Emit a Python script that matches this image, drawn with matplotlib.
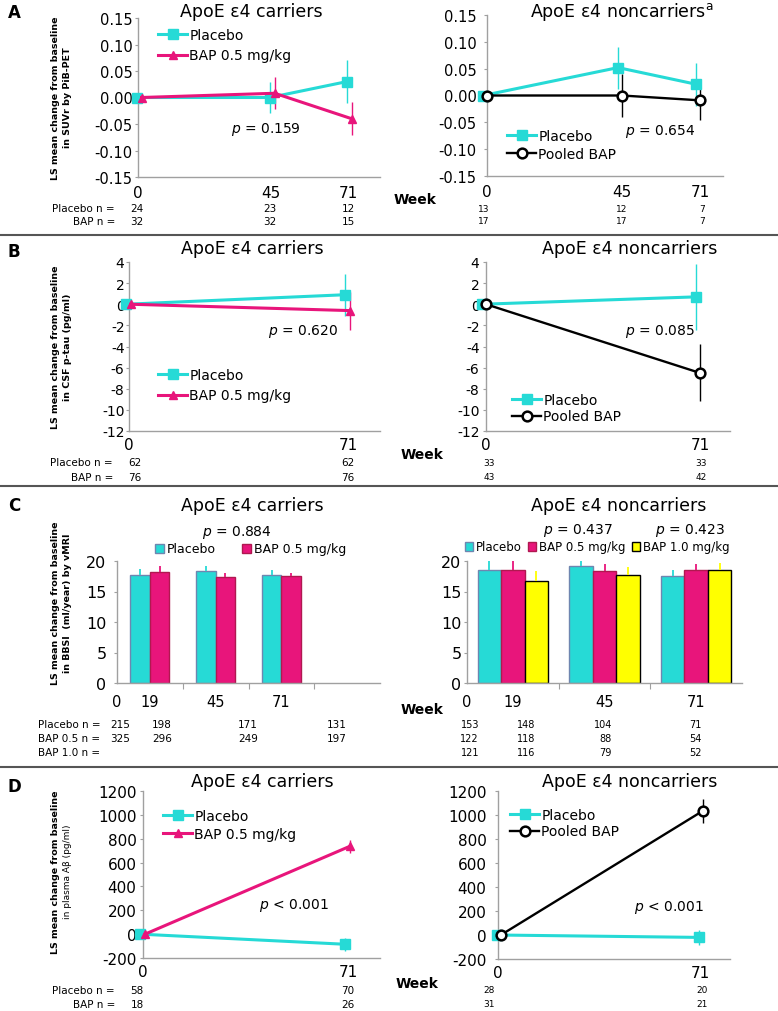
import matplotlib
matplotlib.use("Agg")
import matplotlib.pyplot as plt
from matplotlib.patches import Patch
from matplotlib.lines import Line2D
import numpy as np

W, H = 778, 1012

CYAN = "#26dad6"
MAGENTA = "#e8157b"
YELLOW = "#ffff00"
BLACK = "#000000"
AXIS = "#a0a0a0"

# ---- A: amyloid PET (SUVr)
weeks_a = [0, 45, 71]
a_car_pbo = [0.0, 0.0, 0.03]
a_car_pbo_err = [0.0, 0.03, 0.04]
a_car_bap = [0.0, 0.008, -0.04]
a_car_bap_err = [0.0, 0.03, 0.031]
a_non_pbo = [0.0, 0.052, 0.021]
a_non_pbo_err = [0.0, 0.039, 0.04]
a_non_bap = [0.0, 0.0, -0.009]
a_non_bap_err = [0.0, 0.04, 0.037]
a_car_n_pbo = [24, 23, 12]
a_car_n_bap = [32, 32, 15]
a_non_n_pbo = [13, 12, 7]
a_non_n_bap = [17, 17, 7]

# ---- B: CSF p-tau
weeks_b = [0, 71]
b_car_pbo = [0.0, 0.9]
b_car_pbo_err = [0.0, 2.0]
b_car_bap = [0.0, -0.6]
b_car_bap_err = [0.0, 1.8]
b_non_pbo = [0.0, 0.7]
b_non_pbo_err = [0.0, 3.1]
b_non_bap = [0.0, -6.5]
b_non_bap_err = [0.0, 2.7]
b_car_n_pbo = [62, 62]
b_car_n_bap = [76, 76]
b_non_n_pbo = [33, 33]
b_non_n_bap = [43, 42]

# ---- C: BBSI bars
weeks_c = ["19", "45", "71"]
c_car_pbo = [17.7, 18.4, 17.7]
c_car_pbo_err = [1.0, 0.7, 0.8]
c_car_bap05 = [18.2, 17.4, 17.6]
c_car_bap05_err = [0.9, 0.7, 0.5]
c_non_pbo = [18.6, 19.1, 17.5]
c_non_pbo_err = [1.4, 0.9, 1.0]
c_non_bap05 = [18.6, 18.3, 18.6]
c_non_bap05_err = [1.4, 1.2, 0.9]
c_non_bap10 = [16.8, 17.7, 18.6]
c_non_bap10_err = [1.6, 1.3, 1.1]
c_car_n_pbo = [215, 198, 171, 131]
c_car_n_bap05 = [325, 296, 249, 197]
c_non_n_pbo = [153, 148, 104, 71]
c_non_n_bap05 = [122, 118, 88, 54]
c_non_n_bap10 = [121, 116, 79, 52]

# ---- D: plasma Abeta
weeks_d = [0, 71]
d_car_pbo = [0.0, -85.0]
d_car_pbo_err = [0.0, 55.0]
d_car_bap = [0.0, 737.0]
d_car_bap_err = [0.0, 56.0]
d_non_pbo = [0.0, -20.0]
d_non_pbo_err = [0.0, 65.0]
d_non_bap = [0.0, 1035.0]
d_non_bap_err = [0.0, 100.0]
d_car_n_pbo = [58, 70]
d_car_n_bap = [18, 26]
d_non_n_pbo = [28, 20]
d_non_n_bap = [31, 21]

fig = plt.figure(figsize=(W / 100, H / 100), dpi=100)
fig.patch.set_facecolor("white")


def add_ax(l, t, r, b):
    return fig.add_axes([l / W, 1 - b / H, (r - l) / W, (b - t) / H])


def ftext(x, y, s, **kw):
    kw.setdefault("ha", "center")
    kw.setdefault("va", "center")
    return fig.text(x / W, 1 - y / H, s, **kw)


def base_style(ax, ylim, yticks, fmt, ysize, gap_px):
    for s in ("top", "right"):
        ax.spines[s].set_visible(False)
    for s in ("left", "bottom"):
        ax.spines[s].set_color(AXIS)
        ax.spines[s].set_linewidth(1.0)
    ax.set_ylim(*ylim)
    ax.set_yticks(yticks)
    ax.set_yticklabels([fmt.format(v) for v in yticks])
    ax.tick_params(axis="y", length=2.5, width=0.8, color=AXIS,
                   labelsize=ysize, pad=max(gap_px - 3, 1) * 0.72)


def legend_at(ax, handles, labels, x_px, y_px, **kw):
    pos = ax.get_position()
    xa = (x_px / W - pos.x0) / pos.width
    ya = ((1 - y_px / H) - pos.y0) / pos.height
    return ax.legend(handles, labels, loc="center left", bbox_to_anchor=(xa, ya),
                     borderaxespad=0, borderpad=0, frameon=False, **kw)


def series(ax, weeks, y, err, color, marker, label, dx=0.0, mfc=None, lw=2.2, ms=6.5, mew=1.0):
    x = [w + dx for w in weeks]
    ax.errorbar(x, y, yerr=err, fmt="none", ecolor=color, elinewidth=1.0, capsize=0,
                clip_on=False, zorder=2)
    ln, = ax.plot(x, y, color=color, lw=lw, marker=marker, ms=ms,
                  mfc=mfc if mfc else color, mec=color, mew=mew, clip_on=False,
                  label=label, zorder=3)
    return ln


def line_panel(ax, weeks, xmax, ylim, yticks, fmt, ysize, gap_px, xsize, xpad):
    base_style(ax, ylim, yticks, fmt, ysize, gap_px)
    ax.set_xlim(0, xmax)
    ax.set_xticks(weeks)
    ax.set_xticklabels([str(w) for w in weeks])
    ax.tick_params(axis="x", length=0, labelsize=xsize, pad=xpad)


# ================= A =================
ax = add_ax(138, 19, 380, 178)
line_panel(ax, weeks_a, 81.8, (-0.15, 0.15), np.arange(-0.15, 0.151, 0.05), "{:.2f}", 10.5, 5, 11, 6)
h1 = series(ax, weeks_a, a_car_pbo, a_car_pbo_err, CYAN, "s", "Placebo", dx=-0.4)
h2 = series(ax, weeks_a, a_car_bap, a_car_bap_err, MAGENTA, "^", "BAP 0.5 mg/kg", dx=1.2, ms=6)
legend_at(ax, [h1, h2], ["Placebo", "BAP 0.5 mg/kg"], 158, 46, fontsize=10,
          handlelength=2.1, handletextpad=0.15, labelspacing=0.5)
ftext(266, 130, r"$p$ = 0.159", fontsize=10)

ax = add_ax(487, 16, 723, 177)
line_panel(ax, weeks_a, 78.7, (-0.15, 0.15), np.arange(-0.15, 0.151, 0.05), "{:.2f}", 10.5, 10, 11, 6)
h1 = series(ax, weeks_a, a_non_pbo, a_non_pbo_err, CYAN, "s", "Placebo", dx=-1.3)
h2 = series(ax, weeks_a, a_non_bap, a_non_bap_err, BLACK, "o", "Pooled BAP", mfc="white",
            lw=1.7, ms=7, mew=1.8)
legend_at(ax, [h1, h2], ["Placebo", "Pooled BAP"], 507, 146, fontsize=10,
          handlelength=2.1, handletextpad=0.15, labelspacing=0.25)
ftext(660, 132, r"$p$ = 0.654", fontsize=10)

ftext(251, 12, "ApoE ε4 carriers", fontsize=12.5)
ftext(622, 12, r"ApoE ε4 noncarriers$^{\mathrm{a}}$", fontsize=12.5)
ftext(14, 13, "A", fontsize=12, fontweight="bold")
ftext(55, 98, "LS mean change from baseline", rotation=90, fontsize=6.8, fontweight="bold")
ftext(67, 98, "in SUVr by PiB-PET", rotation=90, fontsize=6.8, fontweight="bold")
ftext(415, 200, "Week", fontsize=10, fontweight="bold")
ftext(115, 209, "Placebo n =", fontsize=7.5, ha="right")
ftext(115, 222, "BAP n =", fontsize=7.5, ha="right")
for xp, n1, n2 in zip([137, 270, 348], a_car_n_pbo, a_car_n_bap):
    ftext(xp, 209, str(n1), fontsize=7.5)
    ftext(xp, 222, str(n2), fontsize=7.5)
for xp, n1, n2 in zip([484, 622, 702], a_non_n_pbo, a_non_n_bap):
    ftext(xp, 209, str(n1), fontsize=6.5)
    ftext(xp, 222, str(n2), fontsize=6.5)

# ================= B =================
ax = add_ax(129, 263, 380, 432)
line_panel(ax, weeks_b, 81.4, (-12, 4), np.arange(-12, 4.1, 2), "{:.0f}", 10, 3, 11, 4)
h1 = series(ax, weeks_b, b_car_pbo, b_car_pbo_err, CYAN, "s", "Placebo", dx=-1.0)
h2 = series(ax, weeks_b, b_car_bap, b_car_bap_err, MAGENTA, "^", "BAP 0.5 mg/kg", dx=0.6, ms=6)
legend_at(ax, [h1, h2], ["Placebo", "BAP 0.5 mg/kg"], 158, 386, fontsize=10,
          handlelength=2.1, handletextpad=0.15, labelspacing=0.5)
ftext(303, 332, r"$p$ = 0.620", fontsize=10)

ax = add_ax(486, 263, 730, 432)
line_panel(ax, weeks_b, 81.0, (-12, 4), np.arange(-12, 4.1, 2), "{:.0f}", 10, 6, 11, 4)
h1 = series(ax, weeks_b, b_non_pbo, b_non_pbo_err, CYAN, "s", "Placebo", dx=-1.3)
h2 = series(ax, weeks_b, b_non_bap, b_non_bap_err, BLACK, "o", "Pooled BAP", mfc="white",
            lw=1.7, ms=7, mew=1.8)
legend_at(ax, [h1, h2], ["Placebo", "Pooled BAP"], 512, 409, fontsize=10,
          handlelength=2.1, handletextpad=0.15, labelspacing=0.2)
ftext(660, 332, r"$p$ = 0.085", fontsize=10)

ftext(252, 249, "ApoE ε4 carriers", fontsize=12.5)
ftext(630, 249, "ApoE ε4 noncarriers", fontsize=12.5)
ftext(14, 252, "B", fontsize=12, fontweight="bold")
ftext(55, 347, "LS mean change from baseline", rotation=90, fontsize=6.8, fontweight="bold")
ftext(67, 347, "in CSF p-tau (pg/ml)", rotation=90, fontsize=6.8, fontweight="bold")
ftext(422, 455, "Week", fontsize=10, fontweight="bold")
ftext(113, 463, "Placebo n =", fontsize=7.5, ha="right")
ftext(113, 478, "BAP n =", fontsize=7.5, ha="right")
for xp, n1, n2 in zip([135, 348], b_car_n_pbo, b_car_n_bap):
    ftext(xp, 463, str(n1), fontsize=7.5)
    ftext(xp, 478, str(n2), fontsize=7.5)
for xp, n1, n2 in zip([489, 701], b_non_n_pbo, b_non_n_bap):
    ftext(xp, 464, str(n1), fontsize=6.5)
    ftext(xp, 478, str(n2), fontsize=6.5)


# ================= C =================
def bar_panel(ax, nslots, groups, width, offsets, gap_px):
    base_style(ax, (0, 20), [0, 5, 10, 15, 20], "{:.0f}", 11.5, gap_px)
    ax.set_xlim(0, nslots)
    centers = np.arange(len(weeks_c)) + 0.5
    for (vals, errs, fc, ec, ecol), off in zip(groups, offsets):
        ax.bar(centers + off, vals, width, color=fc, edgecolor=ec, linewidth=1.0,
               yerr=[np.zeros(len(errs)), errs],
               error_kw=dict(ecolor=ecol, elinewidth=1.3, capsize=0, clip_on=False),
               zorder=2)
    ax.set_xticks(np.concatenate([[0], centers]))
    ax.set_xticklabels(["0"] + weeks_c)
    ax.tick_params(axis="x", which="major", length=0, labelsize=10.5, pad=8)
    ax.set_xticks(np.arange(1, nslots), minor=True)
    ax.tick_params(axis="x", which="minor", length=4, width=0.8, color=AXIS)


ax = add_ax(117, 562, 380, 684)
bar_panel(ax, 4,
          [(c_car_pbo, c_car_pbo_err, CYAN, "#6f86b0", CYAN),
           (c_car_bap05, c_car_bap05_err, MAGENTA, "#b01850", MAGENTA)],
          0.295, [-0.1475, 0.1475], 10)
legend_at(ax, [Patch(fc=CYAN, ec="#6f86b0"), Patch(fc=MAGENTA, ec="#b01850")],
          ["Placebo", "BAP 0.5 mg/kg"], 155, 550, fontsize=9, ncol=2,
          handlelength=0.7, handleheight=0.7, handletextpad=0.25, columnspacing=2.1)
ftext(237, 533, r"$p$ = 0.884", fontsize=10)

ax = add_ax(467, 562, 742, 684)
bar_panel(ax, 3,
          [(c_non_pbo, c_non_pbo_err, CYAN, "#6f86b0", CYAN),
           (c_non_bap05, c_non_bap05_err, MAGENTA, "#b01850", MAGENTA),
           (c_non_bap10, c_non_bap10_err, YELLOW, BLACK, YELLOW)],
          0.256, [-0.256, 0.0, 0.256], 5)
legend_at(ax, [Patch(fc=CYAN, ec="#6f86b0"), Patch(fc=MAGENTA, ec="#b01850"),
               Patch(fc=YELLOW, ec=BLACK)],
          ["Placebo", "BAP 0.5 mg/kg", "BAP 1.0 mg/kg"], 465, 548, fontsize=8.5, ncol=3,
          handlelength=0.7, handleheight=0.7, handletextpad=0.25, columnspacing=0.5)
ftext(578, 531, r"$p$ = 0.437", fontsize=10)
ftext(690, 531, r"$p$ = 0.423", fontsize=10)

ftext(252, 506, "ApoE ε4 carriers", fontsize=12.5)
ftext(619, 506, "ApoE ε4 noncarriers", fontsize=12.5)
ftext(14, 506, "C", fontsize=12, fontweight="bold")
ftext(55, 603, "LS mean change from baseline", rotation=90, fontsize=6.8, fontweight="bold")
ftext(67, 603, "in BBSI  (ml/year) by vMRI", rotation=90, fontsize=6.8, fontweight="bold")
ftext(422, 710, "Week", fontsize=10, fontweight="bold")
for yp, lab in zip([725, 739, 753], ["Placebo n =", "BAP 0.5 n =", "BAP 1.0 n ="]):
    ftext(38, yp, lab, fontsize=7.5, ha="left")
for xp, n1, n2 in zip([130, 172, 258, 347], c_car_n_pbo, c_car_n_bap05):
    ftext(xp, 725, str(n1), fontsize=7.5, ha="right")
    ftext(xp, 739, str(n2), fontsize=7.5, ha="right")
for xp, n1, n2, n3 in zip([479, 535, 612, 702], c_non_n_pbo, c_non_n_bap05, c_non_n_bap10):
    ftext(xp, 725, str(n1), fontsize=7, ha="right")
    ftext(xp, 739, str(n2), fontsize=7, ha="right")
    ftext(xp, 753, str(n3), fontsize=7, ha="right")

# ================= D =================
ax = add_ax(143, 792, 380, 959)
line_panel(ax, weeks_d, 82.1, (-200, 1200), np.arange(-200, 1201, 200), "{:.0f}", 11, 6, 11, 4)
h1 = series(ax, weeks_d, d_car_pbo, d_car_pbo_err, CYAN, "s", "Placebo", dx=-0.9)
h2 = series(ax, weeks_d, d_car_bap, d_car_bap_err, MAGENTA, "^", "BAP 0.5 mg/kg", dx=0.7, ms=6)
legend_at(ax, [h1, h2], ["Placebo", "BAP 0.5 mg/kg"], 163, 826, fontsize=10,
          handlelength=2.1, handletextpad=0.15, labelspacing=0.3)
ftext(294, 906, r"$p$ < 0.001", fontsize=10)

ax = add_ax(498, 792, 730, 960)
line_panel(ax, weeks_d, 81.5, (-200, 1200), np.arange(-200, 1201, 200), "{:.0f}", 11, 11, 11, 4)
h1 = series(ax, weeks_d, d_non_pbo, d_non_pbo_err, CYAN, "s", "Placebo", dx=-0.4)
h2 = series(ax, weeks_d, d_non_bap, d_non_bap_err, BLACK, "o", "Pooled BAP", dx=1.0, mfc="white",
            lw=1.7, ms=7, mew=1.8)
legend_at(ax, [h1, h2], ["Placebo", "Pooled BAP"], 510, 824, fontsize=10,
          handlelength=2.1, handletextpad=0.15, labelspacing=0.2)
ftext(669, 907, r"$p$ < 0.001", fontsize=10)

ftext(262, 782, "ApoE ε4 carriers", fontsize=12.5)
ftext(630, 782, "ApoE ε4 noncarriers", fontsize=12.5)
ftext(14, 787, "D", fontsize=12, fontweight="bold")
ftext(55, 872, "LS mean change from baseline", rotation=90, fontsize=6.8, fontweight="bold")
ftext(67, 872, "in plasma Aβ (pg/ml)", rotation=90, fontsize=6.5)
ftext(417, 984, "Week", fontsize=10, fontweight="bold")
ftext(115, 991, "Placebo n =", fontsize=7.5, ha="right")
ftext(115, 1005, "BAP n =", fontsize=7.5, ha="right")
for xp, n1, n2 in zip([137, 348], d_car_n_pbo, d_car_n_bap):
    ftext(xp, 991, str(n1), fontsize=7.5)
    ftext(xp, 1005, str(n2), fontsize=7.5)
for xp, n1, n2 in zip([489, 702], d_non_n_pbo, d_non_n_bap):
    ftext(xp, 991, str(n1), fontsize=6.5)
    ftext(xp, 1005, str(n2), fontsize=6.5)

# separators between panels
for yp in (236, 487, 768):
    fig.add_artist(Line2D([0, 1], [1 - yp / H] * 2, transform=fig.transFigure,
                          color="#555555", lw=1.5))

fig.savefig("out.png", dpi=100)
